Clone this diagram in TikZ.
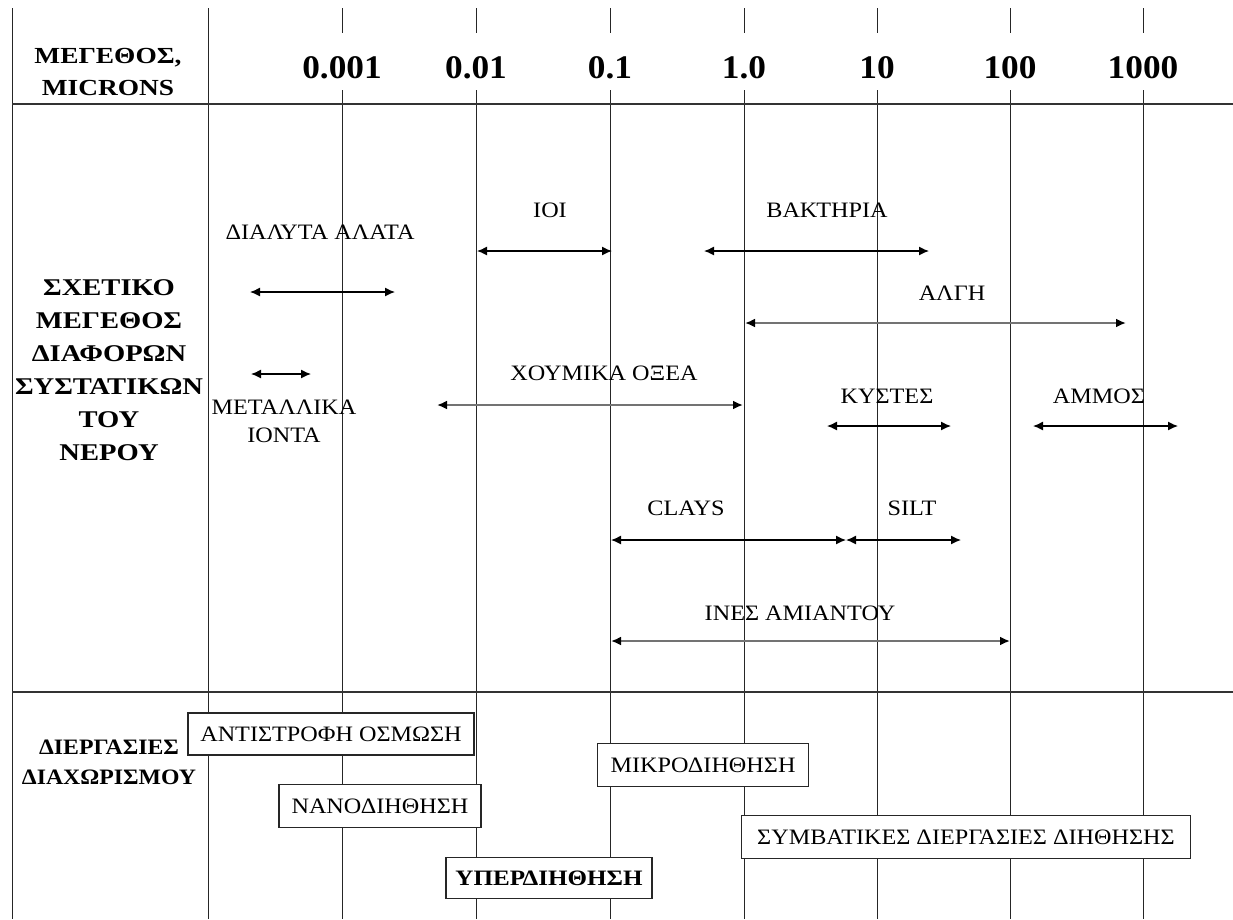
\documentclass[tikz,border=0pt]{standalone}
\usepackage{fontspec}
\setmainfont{Liberation Serif}
\newfontfamily\lblfam[FakeStretch=1.1]{Liberation Serif}
\newfontfamily\sidefam[FakeStretch=1.19]{Liberation Serif}
\newfontfamily\procfam[FakeStretch=1.08]{Liberation Serif}
\newfontfamily\uffam[FakeStretch=1.14]{Liberation Serif}
\newfontfamily\numfam[FakeStretch=1.07]{Liberation Serif}
\usetikzlibrary{arrows.meta}
\begin{document}
\begin{tikzpicture}[x=1pt,y=-1pt,
  grid/.style={line width=1pt,draw=black!85},
  rule/.style={line width=1.4pt,draw=black!80},
  lbl/.style={font=\lblfam\fontsize{22}{26}\selectfont,inner sep=0pt},
  hdr/.style={font=\sidefam\bfseries\fontsize{23}{32}\selectfont,align=center,inner sep=0pt},
  side/.style={font=\sidefam\bfseries\fontsize{24}{33}\selectfont,align=center,inner sep=0pt},
  num/.style={font=\numfam\bfseries\fontsize{33}{36}\selectfont,inner sep=0pt},
  proc/.style={draw=black!85,line width=1.3pt,fill=white,font=\lblfam\fontsize{22}{26}\selectfont,inner sep=0pt},
  rng/.style={{Latex[length=10pt,width=9pt]}-{Latex[length=10pt,width=9pt]},line width=1.3pt},
  grng/.style={{Latex[length=10pt,width=9pt,black]}-{Latex[length=10pt,width=9pt,black]},line width=2pt,draw=black!55}]
\useasboundingbox (0,0) rectangle (1233,919);
\fill[white] (0,0) rectangle (1233,919);
% grid
\draw[grid] (12,8) -- (12,919);
\draw[grid] (208,8) -- (208,919);
\foreach \x in {342,476,610,744,877,1010,1143}{
  \draw[grid] (\x,8) -- (\x,33);
  \draw[grid] (\x,90) -- (\x,919);
}
\draw[rule] (12,104) -- (1233,104);
\draw[rule] (12,692) -- (1233,692);
% header
\node[hdr] (hsize) at (108,72) {ΜΕΓΕΘΟΣ,\\MICRONS};
\node[num] (n1) at (342,68) {0.001};
\node[num] (n2) at (476,68) {0.01};
\node[num] (n3) at (610,68) {0.1};
\node[num] (n4) at (744,68) {1.0};
\node[num] (n5) at (877,68) {10};
\node[num] (n6) at (1010,68) {100};
\node[num] (n7) at (1143,68) {1000};
% side labels
\node[side] (hrel) at (109,370) {ΣΧΕΤΙΚΟ\\ΜΕΓΕΘΟΣ\\ΔΙΑΦΟΡΩΝ\\ΣΥΣΤΑΤΙΚΩΝ\\ΤΟΥ\\ΝΕΡΟΥ};
\node[hdr,font=\procfam\bfseries\fontsize{22}{30}\selectfont] (hproc) at (109,762) {ΔΙΕΡΓΑΣΙΕΣ\\ΔΙΑΧΩΡΙΣΜΟΥ};
% range labels
\node[lbl] (salts) at (320,232) {ΔΙΑΛΥΤΑ ΑΛΑΤΑ};
\node[lbl] (viruses) at (550,210) {ΙΟΙ};
\node[lbl] (bact) at (827,210) {ΒΑΚΤΗΡΙΑ};
\node[lbl] (algae) at (952,293) {ΑΛΓΗ};
\node[lbl,align=center,font=\lblfam\fontsize{22}{28}\selectfont] (metal) at (284,421) {ΜΕΤΑΛΛΙΚΑ\\ΙΟΝΤΑ};
\node[lbl] (humic) at (604,373) {ΧΟΥΜΙΚΑ ΟΞΕΑ};
\node[lbl] (cysts) at (887,396) {ΚΥΣΤΕΣ};
\node[lbl] (sand) at (1099,396) {ΑΜΜΟΣ};
\node[lbl] (clays) at (686,508) {CLAYS};
\node[lbl] (silt) at (912,508) {SILT};
\node[lbl] (asb) at (800,613) {ΙΝΕΣ ΑΜΙΑΝΤΟΥ};
% range endpoints
\coordinate (saltsA) at (250,292); \coordinate (saltsB) at (395,292);
\coordinate (virA) at (477,251); \coordinate (virB) at (612,251);
\coordinate (bactA) at (704,251); \coordinate (bactB) at (929,251);
\coordinate (algA) at (745,323); \coordinate (algB) at (1126,323);
\coordinate (metA) at (251,374); \coordinate (metB) at (311,374);
\coordinate (humA) at (437,405); \coordinate (humB) at (743,405);
\coordinate (cysA) at (827,426); \coordinate (cysB) at (951,426);
\coordinate (sandA) at (1033,426); \coordinate (sandB) at (1178,426);
\coordinate (clayA) at (611,540); \coordinate (clayB) at (846,540);
\coordinate (siltA) at (846,540); \coordinate (siltB) at (961,540);
\coordinate (asbA) at (611,641); \coordinate (asbB) at (1010,641);
\draw[rng] (saltsA) -- (saltsB);
\draw[rng] (virA) -- (virB);
\draw[rng] (bactA) -- (bactB);
\draw[grng] (algA) -- (algB);
\draw[rng] (metA) -- (metB);
\draw[grng] (humA) -- (humB);
\draw[rng] (cysA) -- (cysB);
\draw[rng] (sandA) -- (sandB);
\draw[rng] (clayA) -- (clayB);
\draw[rng] (siltA) -- (siltB);
\draw[grng] (asbA) -- (asbB);
% process boxes
\node[proc,minimum width=286pt,minimum height=42pt] (ro) at (331,734) {ΑΝΤΙΣΤΡΟΦΗ ΟΣΜΩΣΗ};
\node[proc,minimum width=202pt,minimum height=43pt] (nf) at (380,806) {ΝΑΝΟΔΙΗΘΗΣΗ};
\node[proc,minimum width=206pt,minimum height=41pt,font=\uffam\bfseries\fontsize{22}{26}\selectfont] (uf) at (549,878) {ΥΠΕΡΔΙΗΘΗΣΗ};
\node[proc,minimum width=211pt,minimum height=43pt] (mf) at (703,765) {ΜΙΚΡΟΔΙΗΘΗΣΗ};
\node[proc,minimum width=449pt,minimum height=43pt] (cf) at (966,837) {ΣΥΜΒΑΤΙΚΕΣ ΔΙΕΡΓΑΣΙΕΣ ΔΙΗΘΗΣΗΣ};
\end{tikzpicture}
\end{document}
